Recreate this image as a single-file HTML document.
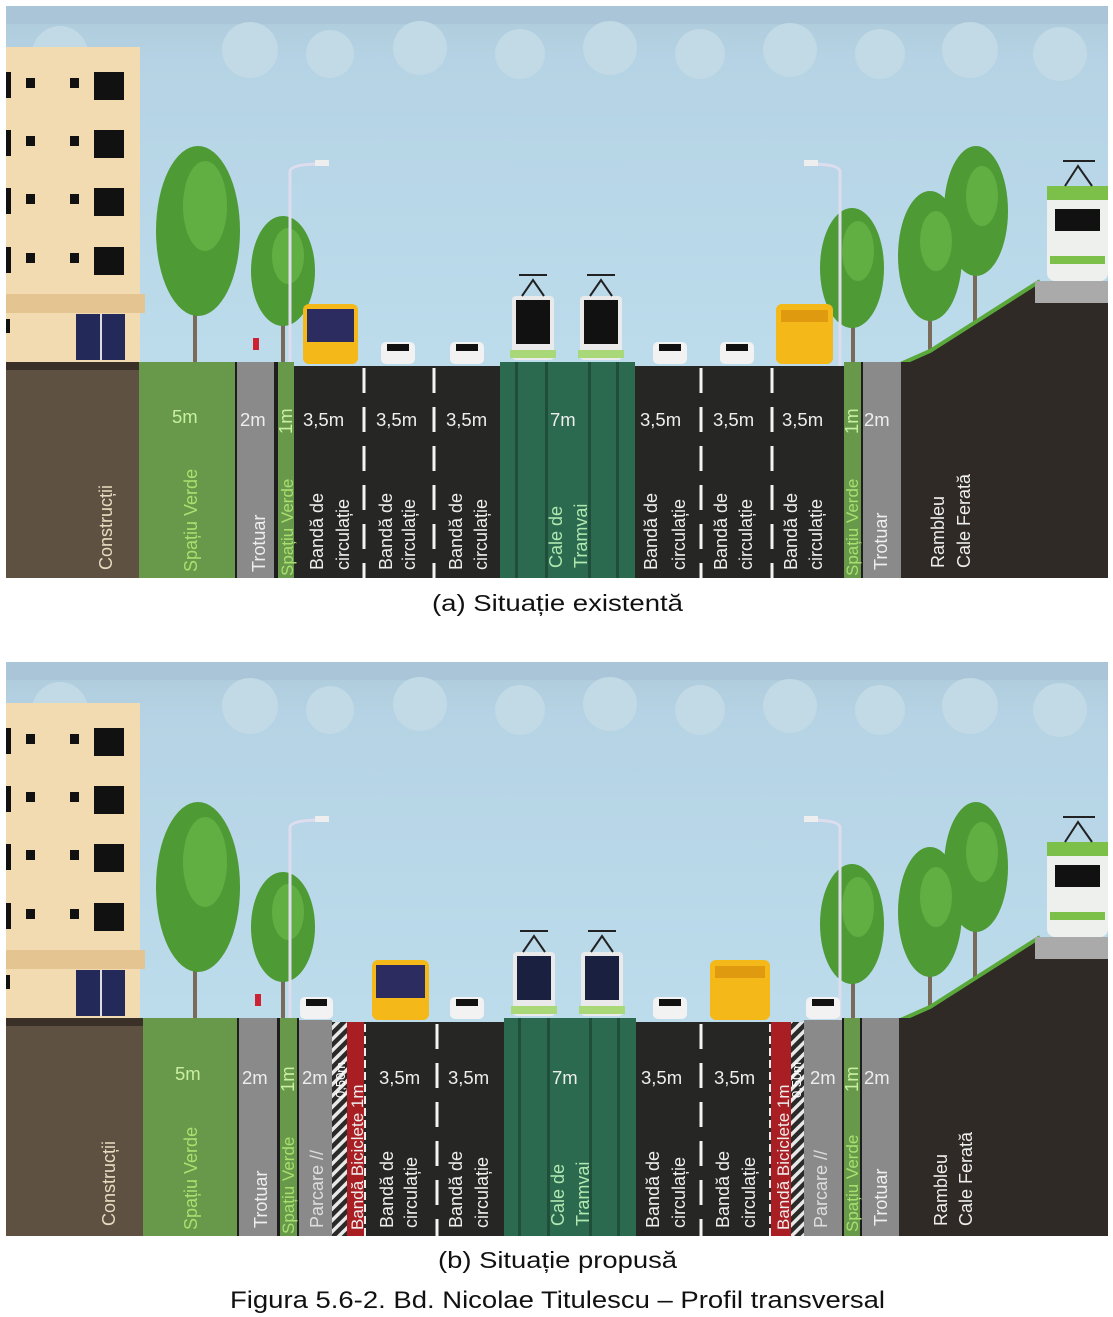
<!DOCTYPE html>
<html><head><meta charset="utf-8"><style>
html,body{margin:0;padding:0;background:#fff;}
svg{display:block;}
text{font-family:"Liberation Sans","DejaVu Sans",sans-serif;}
</style></head><body>
<svg width="1113" height="1317" viewBox="0 0 1113 1317" xmlns="http://www.w3.org/2000/svg">
<defs>
<linearGradient id="sky" x1="0" y1="0" x2="0" y2="1">
<stop offset="0" stop-color="#aecadb"/><stop offset="0.15" stop-color="#b5d3e4"/><stop offset="1" stop-color="#bcdcec"/>
</linearGradient>
<pattern id="hatch" width="8" height="8" patternUnits="userSpaceOnUse" patternTransform="rotate(45)">
<rect width="8" height="8" fill="#2a2a28"/><rect width="3.5" height="8" fill="#e8e8e8"/>
</pattern>
<g id="scene">
<rect x="6" y="0" width="1102" height="360" fill="url(#sky)"/>
<rect x="6" y="0" width="1102" height="18" fill="#a9c5d7"/>
<g fill="#c2d9e6">
<circle cx="60" cy="48" r="28"/><circle cx="250" cy="44" r="28"/><circle cx="330" cy="48" r="24"/><circle cx="420" cy="42" r="27"/><circle cx="520" cy="48" r="25"/><circle cx="610" cy="42" r="27"/><circle cx="700" cy="48" r="25"/><circle cx="790" cy="44" r="27"/><circle cx="880" cy="48" r="25"/><circle cx="970" cy="44" r="28"/><circle cx="1060" cy="48" r="27"/>
</g>
<!-- building -->
<rect x="6" y="41" width="134" height="316" fill="#f2dbb0"/>
<g fill="#111">
<rect x="6" y="66" width="5" height="26"/><rect x="26" y="72" width="9" height="10"/><rect x="70" y="72" width="9" height="10"/><rect x="94" y="66" width="30" height="28"/>
<rect x="6" y="124" width="5" height="26"/><rect x="26" y="130" width="9" height="10"/><rect x="70" y="130" width="9" height="10"/><rect x="94" y="124" width="30" height="28"/>
<rect x="6" y="182" width="5" height="26"/><rect x="26" y="188" width="9" height="10"/><rect x="70" y="188" width="9" height="10"/><rect x="94" y="182" width="30" height="28"/>
<rect x="6" y="241" width="5" height="26"/><rect x="26" y="247" width="9" height="10"/><rect x="70" y="247" width="9" height="10"/><rect x="94" y="241" width="30" height="28"/>
<rect x="6" y="313" width="4" height="14"/>
</g>
<rect x="6" y="288" width="139" height="19" fill="#e4c592"/>
<rect x="76" y="308" width="49" height="46" fill="#232a5a"/><rect x="100" y="308" width="2" height="46" fill="#ddd"/>
<!-- trees -->
<g stroke="#7a6a5a" stroke-width="4"><line x1="195" y1="200" x2="195" y2="360"/><line x1="283" y1="250" x2="283" y2="360"/><line x1="853" y1="260" x2="853" y2="360"/><line x1="930" y1="250" x2="930" y2="345"/><line x1="975" y1="210" x2="975" y2="320"/></g>
<g fill="#4e9a35">
<ellipse cx="198" cy="225" rx="42" ry="85"/><ellipse cx="283" cy="265" rx="32" ry="55"/><ellipse cx="852" cy="262" rx="32" ry="60"/><ellipse cx="930" cy="250" rx="32" ry="65"/><ellipse cx="976" cy="205" rx="32" ry="65"/>
</g>
<g fill="#6ab84a" opacity="0.7"><ellipse cx="205" cy="200" rx="22" ry="45"/><ellipse cx="288" cy="250" rx="16" ry="28"/><ellipse cx="858" cy="245" rx="16" ry="30"/><ellipse cx="936" cy="235" rx="16" ry="30"/><ellipse cx="982" cy="190" rx="16" ry="30"/></g>
<!-- lamps -->
<g stroke="#dde" stroke-width="3" fill="none"><path d="M290 360 V165 Q292 158 320 158"/><path d="M840 360 V165 Q838 158 810 158"/></g>
<rect x="315" y="154" width="14" height="6" fill="#eee"/><rect x="804" y="154" width="14" height="6" fill="#eee"/>
<!-- embankment -->
<polygon points="896,360 930,345 1040,275 1108,275 1108,360" fill="#2f2a25"/>
<polyline points="896,360 930,345 1040,275" stroke="#5aa83a" stroke-width="4" fill="none"/>
<rect x="1035" y="275" width="73" height="22" fill="#aaa"/>
<!-- train -->
<rect x="1047" y="180" width="61" height="95" rx="8" fill="#eef0ee"/>
<rect x="1047" y="180" width="61" height="14" fill="#7cc04a"/>
<rect x="1055" y="203" width="45" height="22" fill="#111"/>
<rect x="1050" y="250" width="55" height="8" fill="#7cc04a"/>
<path d="M1065 180 L1078 160 L1092 180 M1063 155 H1095" stroke="#222" stroke-width="2" fill="none"/>
</g>
</defs>

<!-- ========== PANEL A ========== -->
<use href="#scene" x="0" y="6"/>
<g>
<rect x="303" y="304" width="55" height="60" rx="6" fill="#f4b818"/><rect x="307" y="309" width="47" height="33" fill="#2c2c60"/>
<rect x="381" y="342" width="34" height="22" rx="5" fill="#f2f2f2"/><rect x="387" y="344" width="22" height="7" fill="#111"/>
<rect x="450" y="342" width="34" height="22" rx="5" fill="#f2f2f2"/><rect x="456" y="344" width="22" height="7" fill="#111"/>
<rect x="512" y="296" width="42" height="64" rx="4" fill="#eaeaea"/><rect x="516" y="300" width="34" height="44" fill="#111"/><rect x="510" y="350" width="46" height="8" fill="#a8d878"/>
<rect x="580" y="296" width="42" height="64" rx="4" fill="#eaeaea"/><rect x="584" y="300" width="34" height="44" fill="#111"/><rect x="578" y="350" width="46" height="8" fill="#a8d878"/>
<path d="M522 296 L533 280 L544 296 M519 275 H547 M590 296 L601 280 L612 296 M587 275 H615" stroke="#222" stroke-width="2" fill="none"/>
<rect x="653" y="342" width="34" height="22" rx="5" fill="#f2f2f2"/><rect x="659" y="344" width="22" height="7" fill="#111"/>
<rect x="720" y="342" width="34" height="22" rx="5" fill="#f2f2f2"/><rect x="726" y="344" width="22" height="7" fill="#111"/>
<rect x="776" y="304" width="57" height="60" rx="6" fill="#f4b818"/><rect x="781" y="310" width="47" height="12" fill="#e09a10"/>
<rect x="253" y="338" width="6" height="12" fill="#c23"/>
</g>
<rect x="6" y="362" width="134" height="216" fill="#5e5142"/>
<rect x="6" y="362" width="134" height="8" fill="#3a3028"/>
<rect x="139" y="362" width="96" height="216" fill="#68994a"/>
<rect x="235" y="362" width="2" height="216" fill="#1e1e1e"/>
<rect x="237" y="362" width="37" height="216" fill="#8a8a8a"/>
<rect x="274" y="362" width="4" height="216" fill="#1e1e1e"/>
<rect x="278" y="362" width="16" height="216" fill="#68994a"/>
<rect x="294" y="366" width="206" height="212" fill="#262624"/>
<rect x="500" y="362" width="135" height="216" fill="#2c6a50"/>
<g fill="#1f4e3a"><rect x="515" y="362" width="3" height="216"/><rect x="545" y="362" width="3" height="216"/><rect x="588" y="362" width="3" height="216"/><rect x="616" y="362" width="3" height="216"/></g>
<rect x="635" y="366" width="209" height="212" fill="#262624"/>
<rect x="844" y="362" width="17" height="216" fill="#68994a"/>
<rect x="861" y="362" width="2" height="216" fill="#1e1e1e"/>
<rect x="863" y="362" width="38" height="216" fill="#8a8a8a"/>
<rect x="901" y="362" width="207" height="216" fill="#2f2a25"/>
<g stroke="#f4f4f4" stroke-width="3" stroke-dasharray="25,14">
<line x1="364" y1="368" x2="364" y2="578"/><line x1="434" y1="368" x2="434" y2="578"/><line x1="701" y1="368" x2="701" y2="578"/><line x1="772" y1="368" x2="772" y2="578"/>
</g>
<g font-size="18.5" fill="#eee">
<text x="172" y="423" fill="#c8f0a0">5m</text><text x="240" y="426">2m</text>
<text x="303" y="426">3,5m</text><text x="376" y="426">3,5m</text><text x="446" y="426">3,5m</text>
<text x="550" y="426">7m</text><text x="640" y="426">3,5m</text><text x="713" y="426">3,5m</text><text x="782" y="426">3,5m</text><text x="864" y="426">2m</text>
<text transform="translate(292,434) rotate(-90)" fill="#c8f0a0">1m</text>
<text transform="translate(858,434) rotate(-90)" fill="#c8f0a0">1m</text>
</g>
<g font-size="18" fill="#eee">
<text transform="translate(112,570) rotate(-90)" fill="#e8dcc0">Construcții</text>
<text transform="translate(197,572) rotate(-90)" fill="#a8e070">Spațiu Verde</text>
<text transform="translate(265,572) rotate(-90)">Trotuar</text>
<text transform="translate(293,576) rotate(-90)" fill="#a8e070" font-size="17">Spațiu Verde</text>
<text transform="translate(323,570) rotate(-90)">Bandă de</text><text transform="translate(349,570) rotate(-90)">circulație</text>
<text transform="translate(392,570) rotate(-90)">Bandă de</text><text transform="translate(415,570) rotate(-90)">circulație</text>
<text transform="translate(462,570) rotate(-90)">Bandă de</text><text transform="translate(487,570) rotate(-90)">circulație</text>
<text transform="translate(562,568) rotate(-90)" fill="#b0e8b0">Cale de</text><text transform="translate(587,568) rotate(-90)" fill="#b0e8b0">Tramvai</text>
<text transform="translate(657,570) rotate(-90)">Bandă de</text><text transform="translate(685,570) rotate(-90)">circulație</text>
<text transform="translate(727,570) rotate(-90)">Bandă de</text><text transform="translate(752,570) rotate(-90)">circulație</text>
<text transform="translate(797,570) rotate(-90)">Bandă de</text><text transform="translate(822,570) rotate(-90)">circulație</text>
<text transform="translate(858,576) rotate(-90)" fill="#a8e070" font-size="17">Spațiu Verde</text>
<text transform="translate(887,570) rotate(-90)">Trotuar</text>
<text transform="translate(944,568) rotate(-90)">Rambleu</text><text transform="translate(970,568) rotate(-90)">Cale Ferată</text>
</g>
<text x="432" y="611" font-size="23" textLength="251" lengthAdjust="spacingAndGlyphs" fill="#111">(a) Situație existentă</text>

<!-- ========== PANEL B ========== -->
<use href="#scene" x="0" y="662"/>
<g>
<rect x="300" y="997" width="33" height="22" rx="5" fill="#f2f2f2"/><rect x="306" y="999" width="21" height="7" fill="#111"/>
<rect x="372" y="960" width="57" height="60" rx="6" fill="#f4b818"/><rect x="376" y="965" width="49" height="33" fill="#2c2c60"/>
<rect x="450" y="997" width="34" height="22" rx="5" fill="#f2f2f2"/><rect x="456" y="999" width="22" height="7" fill="#111"/>
<rect x="513" y="952" width="42" height="64" rx="4" fill="#eaeaea"/><rect x="517" y="956" width="34" height="44" fill="#1a2040"/><rect x="511" y="1006" width="46" height="8" fill="#a8d878"/>
<rect x="581" y="952" width="42" height="64" rx="4" fill="#eaeaea"/><rect x="585" y="956" width="34" height="44" fill="#1a2040"/><rect x="579" y="1006" width="46" height="8" fill="#a8d878"/>
<path d="M523 952 L534 936 L545 952 M520 931 H548 M591 952 L602 936 L613 952 M588 931 H616" stroke="#222" stroke-width="2" fill="none"/>
<rect x="653" y="997" width="34" height="22" rx="5" fill="#f2f2f2"/><rect x="659" y="999" width="22" height="7" fill="#111"/>
<rect x="710" y="960" width="60" height="60" rx="6" fill="#f4b818"/><rect x="715" y="966" width="50" height="12" fill="#e09a10"/>
<rect x="806" y="997" width="34" height="22" rx="5" fill="#f2f2f2"/><rect x="812" y="999" width="22" height="7" fill="#111"/>
<rect x="255" y="994" width="6" height="12" fill="#c23"/>
</g>
<rect x="6" y="1018" width="137" height="218" fill="#5e5142"/>
<rect x="6" y="1018" width="137" height="8" fill="#3a3028"/>
<rect x="143" y="1018" width="94" height="218" fill="#68994a"/>
<rect x="237" y="1018" width="2" height="218" fill="#1e1e1e"/>
<rect x="239" y="1018" width="38" height="218" fill="#8a8a8a"/>
<rect x="277" y="1018" width="3" height="218" fill="#1e1e1e"/>
<rect x="280" y="1018" width="17" height="218" fill="#68994a"/>
<rect x="297" y="1018" width="2" height="218" fill="#1e1e1e"/>
<rect x="299" y="1020" width="33" height="216" fill="#8a8a8a"/>
<rect x="332" y="1022" width="15" height="214" fill="url(#hatch)"/>
<rect x="347" y="1022" width="17" height="214" fill="#a81e22"/>
<rect x="364" y="1022" width="140" height="214" fill="#262624"/>
<rect x="504" y="1018" width="132" height="218" fill="#2c6a50"/>
<g fill="#1f4e3a"><rect x="518" y="1018" width="3" height="218"/><rect x="547" y="1018" width="3" height="218"/><rect x="589" y="1018" width="3" height="218"/><rect x="617" y="1018" width="3" height="218"/></g>
<rect x="636" y="1022" width="135" height="214" fill="#262624"/>
<rect x="771" y="1022" width="20" height="214" fill="#a81e22"/>
<rect x="791" y="1022" width="13" height="214" fill="url(#hatch)"/>
<rect x="804" y="1020" width="38" height="216" fill="#8a8a8a"/>
<rect x="842" y="1018" width="2" height="218" fill="#1e1e1e"/>
<rect x="844" y="1018" width="16" height="218" fill="#68994a"/>
<rect x="860" y="1018" width="2" height="218" fill="#1e1e1e"/>
<rect x="862" y="1018" width="37" height="218" fill="#8a8a8a"/>
<rect x="899" y="1018" width="209" height="218" fill="#2f2a25"/>
<g stroke="#f4f4f4" stroke-width="3" stroke-dasharray="25,14">
<line x1="437" y1="1024" x2="437" y2="1236"/><line x1="701" y1="1024" x2="701" y2="1236"/>
</g>
<line x1="365" y1="1024" x2="365" y2="1236" stroke="#eee" stroke-width="2" stroke-dasharray="8,4"/>
<line x1="770" y1="1024" x2="770" y2="1236" stroke="#eee" stroke-width="2" stroke-dasharray="8,4"/>
<g font-size="18.5" fill="#eee">
<text x="175" y="1080" fill="#c8f0a0">5m</text><text x="242" y="1084">2m</text><text x="302" y="1084">2m</text>
<text x="379" y="1084">3,5m</text><text x="448" y="1084">3,5m</text><text x="552" y="1084">7m</text>
<text x="641" y="1084">3,5m</text><text x="714" y="1084">3,5m</text><text x="810" y="1084">2m</text><text x="864" y="1084">2m</text>
<text transform="translate(294,1092) rotate(-90)" fill="#c8f0a0">1m</text>
<text transform="translate(858,1092) rotate(-90)" fill="#c8f0a0">1m</text>
<text transform="translate(345,1098) rotate(-90)" font-size="13" fill="#fff">0,50m</text>
<text transform="translate(801,1098) rotate(-90)" font-size="13" fill="#fff">0,50m</text>
<text transform="translate(363,1230) rotate(-90)" font-size="17">Bandă Biciclete 1m</text>
<text transform="translate(789,1230) rotate(-90)" font-size="17">Bandă Biciclete 1m</text>
</g>
<g font-size="18" fill="#eee">
<text transform="translate(115,1226) rotate(-90)" fill="#e8dcc0">Construcții</text>
<text transform="translate(197,1230) rotate(-90)" fill="#a8e070">Spațiu Verde</text>
<text transform="translate(267,1228) rotate(-90)">Trotuar</text>
<text transform="translate(294,1234) rotate(-90)" fill="#a8e070" font-size="17">Spațiu Verde</text>
<text transform="translate(323,1228) rotate(-90)" fill="#ddd">Parcare //</text>
<text transform="translate(393,1228) rotate(-90)">Bandă de</text><text transform="translate(417,1228) rotate(-90)">circulație</text>
<text transform="translate(462,1228) rotate(-90)">Bandă de</text><text transform="translate(488,1228) rotate(-90)">circulație</text>
<text transform="translate(564,1226) rotate(-90)" fill="#b0e8b0">Cale de</text><text transform="translate(589,1226) rotate(-90)" fill="#b0e8b0">Tramvai</text>
<text transform="translate(659,1228) rotate(-90)">Bandă de</text><text transform="translate(685,1228) rotate(-90)">circulație</text>
<text transform="translate(729,1228) rotate(-90)">Bandă de</text><text transform="translate(755,1228) rotate(-90)">circulație</text>
<text transform="translate(827,1228) rotate(-90)" fill="#ddd">Parcare //</text>
<text transform="translate(858,1232) rotate(-90)" fill="#a8e070" font-size="17">Spațiu Verde</text>
<text transform="translate(887,1226) rotate(-90)">Trotuar</text>
<text transform="translate(947,1226) rotate(-90)">Rambleu</text><text transform="translate(972,1226) rotate(-90)">Cale Ferată</text>
</g>
<text x="438" y="1268" font-size="23" textLength="239" lengthAdjust="spacingAndGlyphs" fill="#111">(b) Situație propusă</text>
<text x="230" y="1308" font-size="24" textLength="655" lengthAdjust="spacingAndGlyphs" fill="#111">Figura 5.6-2. Bd. Nicolae Titulescu – Profil transversal</text>
</svg>
</body></html>
